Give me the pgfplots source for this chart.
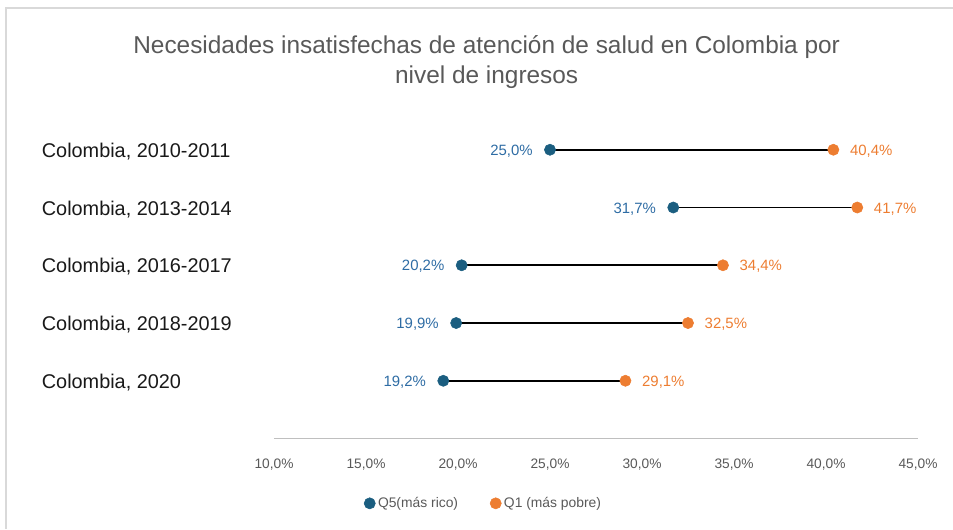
\documentclass[border=0pt]{standalone}
\usepackage{pgfplots}
\pgfplotsset{compat=1.18}
\usepackage{fontspec}
\setmainfont{Liberation Sans}
\definecolor{qblue}{HTML}{1B5E80}
\definecolor{qbluelab}{HTML}{2E6CA4}
\definecolor{qorange}{HTML}{ED7D31}
\definecolor{tgray}{HTML}{595959}
\begin{document}
\begin{tikzpicture}
\path[use as bounding box] (0,0) rectangle (714.75pt,-396.75pt);
\draw[color=black!15, line width=1.2pt] (4pt,-6pt) -- (714.75pt,-6pt);
\draw[color=black!15, line width=1.2pt] (4.5pt,-6pt) -- (4.5pt,-396.75pt);
\node[text=tgray, font=\fontsize{18.3}{22.5}\selectfont, align=center] at (365pt,-46.5pt) {Necesidades insatisfechas de atención de salud en Colombia por\\nivel de ingresos};
\begin{axis}[
  at={(205.5pt,-328.9pt)}, anchor=south west,
  scale only axis, width=483pt, height=259.9pt,
  xmin=10, xmax=45, ymin=0, ymax=6, clip=false,
  axis x line=bottom, axis y line=left,
  y axis line style={draw=none},
  x axis line style={draw=black!25, line width=1.2pt, -},
  tick style={draw=none},
  xtick={10,15,...,45},
  xticklabel={\pgfmathprintnumber[fixed,fixed zerofill,precision=1,use comma,assume math mode=true]{\tick}\%},
  xticklabel style={text=tgray, font=\fontsize{10.3}{12}\selectfont, yshift=-9.5pt},
  ytick={1,2,3,4,5},
  yticklabels={{Colombia, 2020},{Colombia, 2018-2019},{Colombia, 2016-2017},{Colombia, 2013-2014},{Colombia, 2010-2011}},
  yticklabel style={anchor=west, xshift=-175.5pt, yshift=-1.2pt, text=black!90, font=\fontsize{14.9}{17}\selectfont},
  legend style={at={(0.326,-0.187)}, anchor=center, draw=none, fill=none, legend columns=2, font=\fontsize{10.4}{12}\selectfont, text=tgray, /tikz/every even column/.append style={column sep=22pt}},
  legend cell align=left,
  point meta=x,
]
\addplot[black, line width=1.4pt, forget plot] coordinates {(25.0,5) (40.4,5)};
\addplot[black, line width=1.4pt, forget plot] coordinates {(31.7,4) (41.7,4)};
\addplot[black, line width=1.4pt, forget plot] coordinates {(20.2,3) (34.4,3)};
\addplot[black, line width=1.4pt, forget plot] coordinates {(19.9,2) (32.5,2)};
\addplot[black, line width=1.4pt, forget plot] coordinates {(19.2,1) (29.1,1)};
\addplot[only marks, mark=*, mark size=4.2pt, color=qblue,
  nodes near coords={\pgfmathprintnumber[fixed,fixed zerofill,precision=1,use comma,assume math mode=true]{\pgfplotspointmeta}\%},
  every node near coord/.append style={anchor=east, xshift=-9.5pt, yshift=-1pt, text=qbluelab, font=\fontsize{11.2}{13}\selectfont}]
  coordinates {(25.0,5) (31.7,4) (20.2,3) (19.9,2) (19.2,1)};
\addlegendentry{Q5(más rico)}
\addplot[only marks, mark=*, mark size=4.2pt, color=qorange,
  nodes near coords={\pgfmathprintnumber[fixed,fixed zerofill,precision=1,use comma,assume math mode=true]{\pgfplotspointmeta}\%},
  every node near coord/.append style={anchor=west, xshift=9pt, yshift=-1pt, text=qorange, font=\fontsize{11.2}{13}\selectfont}]
  coordinates {(40.4,5) (41.7,4) (34.4,3) (32.5,2) (29.1,1)};
\addlegendentry{Q1 (más pobre)}
\end{axis}
\end{tikzpicture}
\end{document}
